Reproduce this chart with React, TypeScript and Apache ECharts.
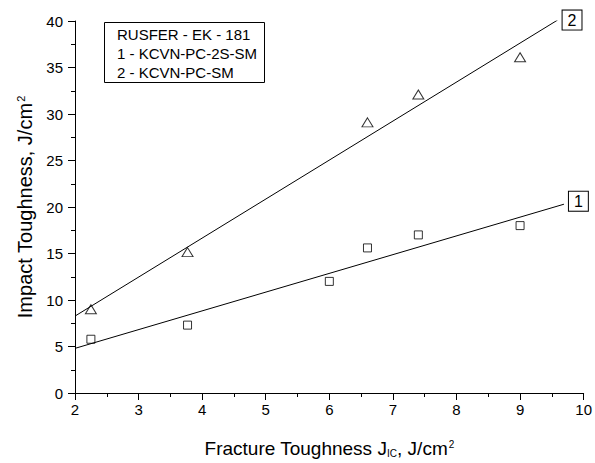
import React, { useEffect, useRef } from "react";
import * as echarts from "echarts";

const squareX = [2.25, 3.77, 6.0, 6.6, 7.4, 9.0];
const squareY = [5.78, 7.3, 12.0, 15.6, 17.0, 18.0];
const triangleX = [2.25, 3.77, 6.6, 7.4, 9.0];
const triangleY = [9.0, 15.15, 29.1, 32.1, 36.1];
const fitLine1 = [[2, 4.8], [9.69, 20.3]];
const fitLine2 = [[2, 8.27], [9.59, 40.1]];
const legendLines = ["RUSFER - EK - 181", "1 - KCVN-PC-2S-SM", "2 - KCVN-PC-SM"];

const FONT = "'Liberation Sans', Arial, sans-serif";

export default function App() {
  const ref = useRef<HTMLDivElement>(null);
  useEffect(() => {
    if (!ref.current) return;
    const chart = echarts.init(ref.current, null, { renderer: "svg" });
    const boxLabel = (txt: string, off: number[]) => ({
      show: true,
      position: "right",
      distance: 5,
      offset: off,
      formatter: txt,
      color: "#000",
      fontFamily: FONT,
      fontSize: 16,
      backgroundColor: "#fff",
      borderColor: "#000",
      borderWidth: 1,
      padding: [2, 5, 1, 5],
    });
    chart.setOption({
      animation: false,
      backgroundColor: "#fff",
      textStyle: { fontFamily: FONT },
      title: {
        text: legendLines.join("\n"),
        left: 104,
        top: 22,
        borderColor: "#000",
        borderWidth: 1,
        padding: [3, 8, 1, 13],
        textStyle: {
          fontFamily: FONT,
          fontSize: 15,
          fontWeight: "normal",
          lineHeight: 19,
          color: "#000",
        },
      },
      grid: { left: 75, right: 11, top: 21, bottom: 68 },
      xAxis: {
        type: "value",
        min: 2,
        max: 10,
        interval: 1,
        name: "Fracture Toughness J{sub|IC}, J/cm{sup|2}",
        nameLocation: "middle",
        nameGap: 46,
        nameTextStyle: {
          fontFamily: FONT,
          fontSize: 19,
          color: "#000",
          rich: {
            sub: { fontSize: 10, verticalAlign: "bottom", padding: [9, 0, 0, 0], fontFamily: FONT, color: "#000" },
            sup: { fontSize: 10, verticalAlign: "top", padding: [0, 0, 9, 1], fontFamily: FONT, color: "#000" },
          },
        },
        axisLine: { show: true, onZero: false, lineStyle: { color: "#000", width: 1 } },
        axisTick: { show: true, inside: false, length: 7, lineStyle: { color: "#000" } },
        minorTick: { show: true, splitNumber: 2, length: 4, lineStyle: { color: "#000" } },
        splitLine: { show: false },
        axisLabel: { fontFamily: FONT, fontSize: 15, color: "#000", margin: 9 },
      },
      yAxis: {
        type: "value",
        min: 0,
        max: 40,
        interval: 5,
        name: "Impact Toughness, J/cm{sup|2}",
        nameLocation: "middle",
        nameGap: 28,
        nameTextStyle: {
          fontFamily: FONT,
          fontSize: 20,
          color: "#000",
          rich: {
            sup: { fontSize: 11, verticalAlign: "top", padding: [0, 0, 9, 1], fontFamily: FONT, color: "#000" },
          },
        },
        axisLine: { show: true, onZero: false, lineStyle: { color: "#000", width: 1 } },
        axisTick: { show: true, inside: false, length: 7, lineStyle: { color: "#000" } },
        minorTick: { show: true, splitNumber: 2, length: 4, lineStyle: { color: "#000" } },
        splitLine: { show: false },
        axisLabel: { fontFamily: FONT, fontSize: 15, color: "#000", margin: 12 },
      },
      series: [
        {
          type: "line",
          data: fitLine1,
          symbol: "none",
          lineStyle: { color: "#000", width: 1 },
          endLabel: boxLabel("1", [0, -3]),
        },
        {
          type: "line",
          data: fitLine2,
          symbol: "none",
          lineStyle: { color: "#000", width: 1 },
          endLabel: boxLabel("2", [0, 0]),
        },
        {
          type: "scatter",
          data: squareX.map((x, i) => [x, squareY[i]]),
          symbol: "rect",
          symbolSize: 8,
          itemStyle: { color: "#fff", borderColor: "#000", borderWidth: 1 },
        },
        {
          type: "scatter",
          data: triangleX.map((x, i) => [x, triangleY[i]]),
          symbol: "triangle",
          symbolSize: [11, 9],
          itemStyle: { color: "#fff", borderColor: "#000", borderWidth: 1 },
        },
      ],
    });
    return () => chart.dispose();
  }, []);
  return <div ref={ref} style={{ width: 595, height: 463, position: "absolute", left: 0, top: 0 }} />;
}
